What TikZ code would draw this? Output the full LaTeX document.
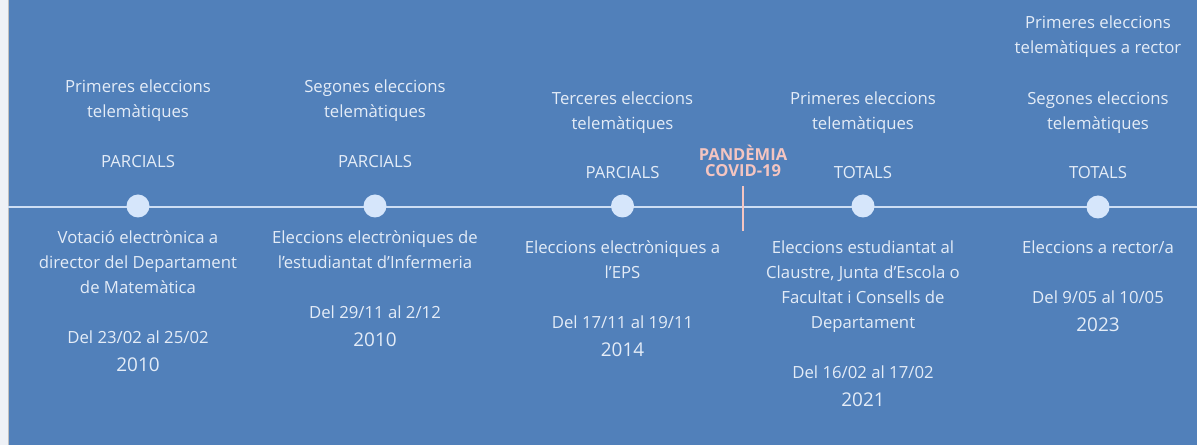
\documentclass[tikz,border=0pt]{standalone}
\usepackage{fontspec}
\setmainfont{Open Sans}
\definecolor{bgblue}{HTML}{5180BA}
\definecolor{strip}{HTML}{EEF1F6}
\definecolor{txtc}{HTML}{E4ECF7}
\definecolor{dotc}{HTML}{D6E6FB}
\definecolor{linec}{HTML}{CDDEF4}
\definecolor{pinkc}{HTML}{F4C5C1}
\tikzset{
  txt/.style={anchor=base, inner sep=0pt, text=txtc, font=\fontsize{16.8}{20}\selectfont},
  yeartxt/.style={anchor=base, inner sep=0pt, text=txtc, font=\fontsize{19}{22}\selectfont},
  covid/.style={anchor=base, inner sep=0pt, text=pinkc, font=\bfseries\fontsize{16.6}{19}\selectfont},
  dot/.style={circle, fill=dotc, draw=none, minimum size=23bp, inner sep=0pt},
  axis/.style={draw=linec, line width=2.6bp},
  tick/.style={draw=pinkc, line width=2bp}
}
\begin{document}
\begin{tikzpicture}[x=1bp,y=-1bp]
\useasboundingbox (0,0) rectangle (1197,445);
\fill[strip] (0,0) rectangle (8,445);
\fill[bgblue] (8,0) rectangle (1197,445);
\draw[black!25, line width=0.6bp] (8,0) -- (8,445);
% axis
\coordinate (axL) at (8,207);
\coordinate (axR) at (1197,207);
\draw[axis] (axL) -- (axR);
% covid tick
\coordinate (tkT) at (742.5,186);
\coordinate (tkB) at (742.5,231);
\draw[tick] (tkT) -- (tkB);
\node[covid] (cv1) at (743,160.5) {PANDÈMIA};
\node[covid] (cv2) at (743,177) {COVID-19};
% dots
\node[dot] (d1) at (138,206) {};
\node[dot] (d2) at (375,206) {};
\node[dot] (d3) at (622.5,206) {};
\node[dot] (d4) at (863,206) {};
\node[dot] (d5) at (1098,207) {};
% column 1
\node[txt] (a1) at (138,93) {Primeres eleccions};
\node[txt] (a2) at (138,118) {telemàtiques};
\node[txt] (a3) at (138,168) {PARCIALS};
\node[txt] (a4) at (138,244) {Votació electrònica a};
\node[txt] (a5) at (138,269) {director del Departament};
\node[txt] (a6) at (138,294) {de Matemàtica};
\node[txt] (a7) at (138,344) {Del 23/02 al 25/02};
\node[yeartxt] (a8) at (138,372) {2010};
% column 2
\node[txt] (b1) at (375,93) {Segones eleccions};
\node[txt] (b2) at (375,118) {telemàtiques};
\node[txt] (b3) at (375,168) {PARCIALS};
\node[txt] (b4) at (375,244) {Eleccions electròniques de};
\node[txt] (b5) at (375,269) {l’estudiantat d’Infermeria};
\node[txt] (b6) at (375,319) {Del 29/11 al 2/12};
\node[yeartxt] (b7) at (375,347) {2010};
% column 3
\node[txt] (c1) at (622.5,105) {Terceres eleccions};
\node[txt] (c2) at (622.5,130) {telemàtiques};
\node[txt] (c3) at (622.5,179) {PARCIALS};
\node[txt] (c4) at (622.5,254) {Eleccions electròniques a};
\node[txt] (c5) at (622.5,279) {l’EPS};
\node[txt] (c6) at (622.5,329) {Del 17/11 al 19/11};
\node[yeartxt] (c7) at (622.5,357) {2014};
% column 4
\node[txt] (e1) at (863,105) {Primeres eleccions};
\node[txt] (e2) at (863,130) {telemàtiques};
\node[txt] (e3) at (863,179) {TOTALS};
\node[txt] (e4) at (863,254) {Eleccions estudiantat al};
\node[txt] (e5) at (863,279) {Claustre, Junta d’Escola o};
\node[txt] (e6) at (863,304) {Facultat i Consells de};
\node[txt] (e7) at (863,329) {Departament};
\node[txt] (e8) at (863,379) {Del 16/02 al 17/02};
\node[yeartxt] (e9) at (863,407) {2021};
% column 5
\node[txt] (f1) at (1098,29) {Primeres eleccions};
\node[txt] (f2) at (1098,54) {telemàtiques a rector};
\node[txt] (f3) at (1098,105) {Segones eleccions};
\node[txt] (f4) at (1098,130) {telemàtiques};
\node[txt] (f5) at (1098,179) {TOTALS};
\node[txt] (f6) at (1098,254) {Eleccions a rector/a};
\node[txt] (f7) at (1098,304) {Del 9/05 al 10/05};
\node[yeartxt] (f8) at (1098,332) {2023};
\end{tikzpicture}
\end{document}
